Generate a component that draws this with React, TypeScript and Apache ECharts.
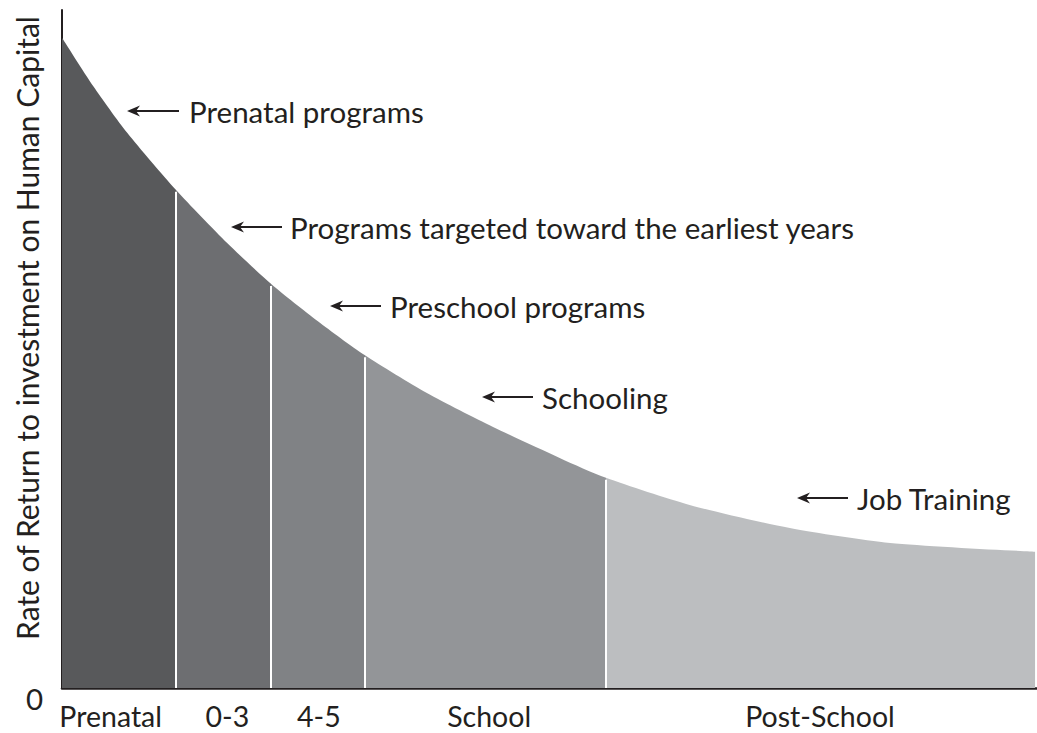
import React, { useEffect, useRef } from "react";
import * as echarts from "echarts";

// Segment names (x-axis labels) and their fill colours
const segmentNames = ["Prenatal", "0-3", "4-5", "School", "Post-School"];
const segmentColors = ["#58595b", "#6d6e71", "#808285", "#939598", "#bcbec0"];
// Where each segment label sits on the x axis (x units, 0..100)
const labelPositions = [5.0, 17.0, 26.4, 43.9, 77.9];
// Boundaries between segments (x units, 0..100)
const boundaries = [11.7, 21.5, 31.1, 55.9];
// Curve (x 0..100, y 0..100)
const curveX = [0, 3.2, 6.7, 11.7, 17.0, 21.5, 26.3, 31.1, 37.5, 44.3, 51.2, 55.9, 64.5, 74.8, 85.1, 100];
const curveY = [95.9, 88.8, 81.9, 73.5, 65.6, 59.6, 54.1, 49.1, 43.5, 38.5, 33.9, 31.0, 27.0, 23.6, 21.4, 20.1];
const yTickValues = [0];
const yAxisTitle = "Rate of Return to investment on Human Capital";
// Annotations: text, arrow head position (px), arrow tail (px), text start (px)
const annotations = [
  { text: "Prenatal programs", head: 127, tail: 179, textX: 189, y: 111 },
  { text: "Programs targeted toward the earliest years", head: 231, tail: 282, textX: 290, y: 227 },
  { text: "Preschool programs", head: 330, tail: 381, textX: 390, y: 306 },
  { text: "Schooling", head: 482, tail: 533, textX: 542, y: 397 },
  { text: "Job Training", head: 797, tail: 848, textX: 857, y: 498 },
];

const FONT = "Lato, 'Noto Sans', sans-serif";
const INK = "#231f20";

export default function App() {
  const ref = useRef<HTMLDivElement>(null);
  useEffect(() => {
    if (!ref.current) return;
    const chart = echarts.init(ref.current, null, { renderer: "svg" });
    const edges = [0, ...boundaries, 100.2];
    const pts = curveX.map((x, i) => [x, curveY[i]]);

    const graphics: any[] = [];
    annotations.forEach((a) => {
      graphics.push({
        type: "line",
        shape: { x1: a.head + 6, y1: a.y, x2: a.tail, y2: a.y },
        style: { stroke: INK, lineWidth: 2 },
      });
      graphics.push({
        type: "polygon",
        shape: {
          points: [
            [a.head, a.y],
            [a.head + 13, a.y - 5.5],
            [a.head + 9, a.y],
            [a.head + 13, a.y + 5.5],
          ],
        },
        style: { fill: INK },
      });
      graphics.push({
        type: "text",
        x: a.textX,
        y: a.y,
        style: {
          text: a.text,
          font: `29.5px ${FONT}`,
          fill: INK,
          verticalAlign: "middle",
          align: "left",
        },
      });
    });
    graphics.push({
      type: "text",
      x: 27,
      y: 328,
      rotation: Math.PI / 2,
      style: {
        text: yAxisTitle,
        font: `30px ${FONT}`,
        fill: INK,
        align: "center",
        verticalAlign: "middle",
      },
    });

    chart.setOption({
      animation: false,
      grid: { left: 62, right: 0, top: 10, bottom: 45, containLabel: false },
      visualMap: {
        type: "piecewise",
        show: false,
        dimension: 0,
        seriesIndex: 0,
        pieces: segmentColors.map((c, i) => ({ gte: edges[i], lt: edges[i + 1], color: c })),
      },
      xAxis: {
        type: "value",
        min: 0,
        max: 100.2,
        splitLine: { show: false },
        axisTick: { show: false },
        axisLine: { show: true, onZero: false, lineStyle: { color: INK, width: 2.5 } },
        axisLabel: {
          customValues: labelPositions,
          formatter: (v: number) => {
            let best = 0;
            labelPositions.forEach((m, i) => {
              if (Math.abs(m - v) < Math.abs(labelPositions[best] - v)) best = i;
            });
            return segmentNames[best];
          },
          fontSize: 28.5,
          fontFamily: FONT,
          color: INK,
          margin: 16,
          lineHeight: 24,
          showMinLabel: true,
          showMaxLabel: true,
          hideOverlap: false,
        },
      },
      yAxis: {
        type: "value",
        min: 0,
        max: 100,
        splitLine: { show: false },
        axisTick: { show: false },
        axisLine: { show: true, onZero: false, lineStyle: { color: INK, width: 2 } },
        axisLabel: {
          customValues: yTickValues,
          fontSize: 29.5,
          fontFamily: FONT,
          color: INK,
          margin: 19,
          verticalAlign: "top",
          lineHeight: 20,
        },
      },
      series: [
        {
          type: "line",
          data: pts,
          smooth: 0.25,
          showSymbol: false,
          symbol: "none",
          lineStyle: { width: 0 },
          areaStyle: { opacity: 1 },
          z: 2,
        },
        {
          type: "line",
          data: [],
          markLine: {
            silent: true,
            symbol: "none",
            label: { show: false },
            lineStyle: { color: "#ffffff", width: 2, type: "solid" },
            data: boundaries.map((b) => {
              const idx = curveX.indexOf(b);
              return [{ coord: [b, 0] }, { coord: [b, curveY[idx] - 0.3] }];
            }),
          },
          z: 3,
        },
      ],
      graphic: graphics,
    });
    return () => chart.dispose();
  }, []);
  return (
    <div
      ref={ref}
      style={{ position: "absolute", left: 0, top: 0, width: 1037, height: 733, background: "#fff" }}
    />
  );
}
